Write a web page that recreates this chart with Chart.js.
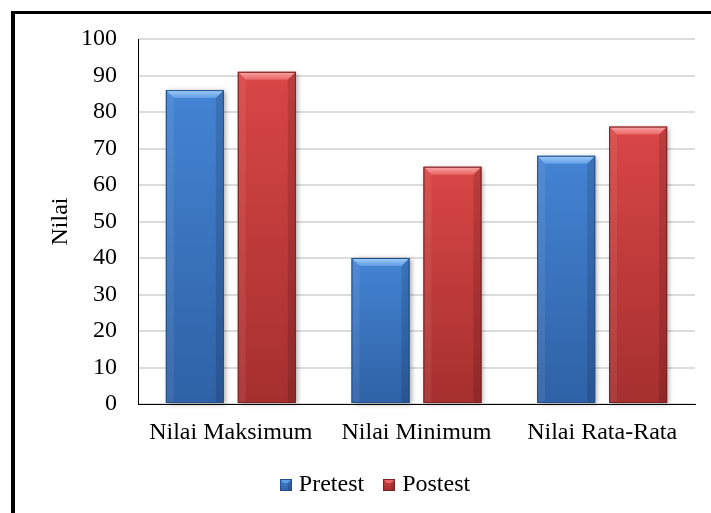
<!DOCTYPE html>
<html>
<head>
<meta charset="utf-8">
<script src="https://cdn.jsdelivr.net/npm/chart.js@4/dist/chart.umd.min.js"></script>
<style>
  html, body { margin: 0; padding: 0; background: #fff; overflow: hidden; }
  #wrap { position: relative; width: 711px; height: 513px; }
  #wrap canvas { position: absolute; left: 0; top: 0; }
  #frame { position: absolute; left: 11px; top: 11px; width: 720px; height: 520px;
           border-left: 4px solid #000; border-top: 3px solid #000; pointer-events: none; }
</style>
</head>
<body>
<div id="wrap">
  <canvas id="chart" width="711" height="513"></canvas>
  <div id="frame"></div>
</div>
<script>
// Categories and scores
const categories = ['Nilai Maksimum', 'Nilai Minimum', 'Nilai Rata-Rata'];
const seriesNames = ['Pretest', 'Postest'];
const pretest = [86, 40, 68];
const postest = [91, 65, 76];
const yMin = 0, yMax = 100, yStep = 10;
const axisTitle = 'Nilai';

// Bevelled bar palettes
const palettes = [
  { hi: '#a2cff8', top: '#5f9de6', bodyTop: '#4484d3', bodyBottom: '#2f61a6', edge: '#244f8a' },
  { hi: '#f8a6a6', top: '#ea6666', bodyTop: '#d94646', bodyBottom: '#a52f2f', edge: '#7c2121' }
];

const FONT = "'Liberation Serif', 'Times New Roman', serif";
Chart.defaults.font.family = FONT;
Chart.defaults.color = '#000';

function barFill(pal) {
  return function (ctx) {
    const chart = ctx.chart;
    const y = chart.scales && chart.scales.y;
    if (!y || !ctx.parsed) return pal.bodyBottom;
    const yt = y.getPixelForValue(ctx.parsed.y);
    const yb = y.getPixelForValue(0);
    if (!isFinite(yt) || !isFinite(yb) || yt === yb) return pal.bodyBottom;
    const g = chart.ctx.createLinearGradient(0, yt, 0, yb);
    g.addColorStop(0, pal.bodyTop);
    g.addColorStop(1, pal.bodyBottom);
    return g;
  };
}

// Small bevelled swatch for the legend
function makeIcon(pal) {
  const s = 12, b = 4;
  const cv = document.createElement('canvas');
  cv.width = s; cv.height = s;
  const c = cv.getContext('2d');
  const g = c.createLinearGradient(0, 0, 0, s);
  g.addColorStop(0, pal.bodyTop); g.addColorStop(1, pal.bodyBottom);
  c.fillStyle = g; c.fillRect(0, 0, s, s);
  c.fillStyle = pal.top;
  c.beginPath(); c.moveTo(0, 0); c.lineTo(s, 0); c.lineTo(s - b, b); c.lineTo(b, b); c.closePath(); c.fill();
  c.fillStyle = 'rgba(0,0,0,0.15)';
  c.beginPath(); c.moveTo(s, 0); c.lineTo(s, s); c.lineTo(s - b, s); c.lineTo(s - b, b); c.closePath(); c.fill();
  c.strokeStyle = pal.edge; c.lineWidth = 1; c.strokeRect(0.5, 0.5, s - 1, s - 1);
  return cv;
}
const icons = palettes.map(makeIcon);

function eachBar(chart, fn) {
  chart.data.datasets.forEach((ds, i) => {
    const meta = chart.getDatasetMeta(i);
    if (meta.hidden) return;
    meta.data.forEach(bar => {
      const p = bar.getProps(['x', 'y', 'base', 'width'], true);
      fn(p, palettes[i]);
    });
  });
}

const bevelPlugin = {
  id: 'bevel',
  afterLayout(chart) {
    // nudge the legend row so it sits centred under the plot
    if (chart.legend) { chart.legend.left += 22; chart.legend.right += 22; }
  },
  beforeDatasetsDraw(chart) {
    const c = chart.ctx;
    eachBar(chart, (p) => {
      const l = p.x - p.width / 2, t = Math.min(p.y, p.base), h = Math.abs(p.base - p.y);
      c.save();
      c.shadowColor = 'rgba(0,0,0,0.35)';
      c.shadowBlur = 5; c.shadowOffsetX = 2; c.shadowOffsetY = 1;
      c.fillStyle = '#777';
      c.fillRect(l, t, p.width, h);
      c.restore();
    });
  },
  afterDatasetsDraw(chart) {
    const c = chart.ctx;
    eachBar(chart, (p, pal) => {
      const l = p.x - p.width / 2, r = p.x + p.width / 2;
      const t = Math.min(p.y, p.base), btm = Math.max(p.y, p.base);
      const b = Math.min(8, (r - l) / 4, (btm - t) / 2);
      c.save();
      const g = c.createLinearGradient(0, t, 0, t + b);
      g.addColorStop(0, pal.hi); g.addColorStop(1, pal.top);
      c.fillStyle = g;
      c.beginPath(); c.moveTo(l, t); c.lineTo(r, t); c.lineTo(r - b, t + b); c.lineTo(l + b, t + b); c.closePath(); c.fill();
      c.fillStyle = 'rgba(255,255,255,0.07)';
      c.beginPath(); c.moveTo(l, t); c.lineTo(l + b, t + b); c.lineTo(l + b, btm); c.lineTo(l, btm); c.closePath(); c.fill();
      c.fillStyle = 'rgba(0,0,0,0.13)';
      c.beginPath(); c.moveTo(r, t); c.lineTo(r, btm); c.lineTo(r - b, btm); c.lineTo(r - b, t + b); c.closePath(); c.fill();
      c.strokeStyle = pal.edge; c.lineWidth = 1;
      c.strokeRect(l + 0.5, t + 0.5, r - l - 1, btm - t - 1);
      c.restore();
    });
  }
};

new Chart(document.getElementById('chart'), {
  type: 'bar',
  data: {
    labels: categories,
    datasets: [
      { label: seriesNames[0], data: pretest, backgroundColor: barFill(palettes[0]), borderWidth: 0 },
      { label: seriesNames[1], data: postest, backgroundColor: barFill(palettes[1]), borderWidth: 0 }
    ]
  },
  options: {
    responsive: false,
    animation: false,
    devicePixelRatio: 1,
    categoryPercentage: 0.775,
    barPercentage: 0.806,
    layout: { padding: { left: 16, right: 16, top: 39, bottom: 6 } },
    plugins: {
      tooltip: { enabled: false },
      legend: {
        position: 'bottom',
        labels: {
          usePointStyle: true,
          boxWidth: 2,
          boxHeight: 12,
          padding: 24,
          font: { size: 24, family: FONT },
          color: '#000',
          generateLabels(chart) {
            return chart.data.datasets.map((ds, i) => ({
              text: ds.label,
              pointStyle: icons[i],
              fillStyle: palettes[i].bodyTop,
              strokeStyle: palettes[i].edge,
              lineWidth: 0,
              hidden: false,
              datasetIndex: i,
              fontColor: '#000'
            }));
          }
        }
      }
    },
    scales: {
      x: {
        grid: { display: false, drawTicks: false },
        border: { display: true, color: '#000', width: 1 },
        ticks: { padding: 14, font: { size: 24, family: FONT }, color: '#000' },
        afterFit(scale) { scale.height = 45; }
      },
      y: {
        min: yMin, max: yMax,
        grid: { color: '#dcdcdc', lineWidth: 2, drawTicks: false },
        border: { display: true, color: '#000', width: 1 },
        ticks: { stepSize: yStep, padding: 21, font: { size: 24, family: FONT }, color: '#000' },
        title: { display: true, text: axisTitle, font: { size: 24, family: FONT }, color: '#000', padding: { top: 30, bottom: 0 } },
        afterFit(scale) { scale.width = 122; }
      }
    }
  },
  plugins: [bevelPlugin]
});
</script>
</body>
</html>
